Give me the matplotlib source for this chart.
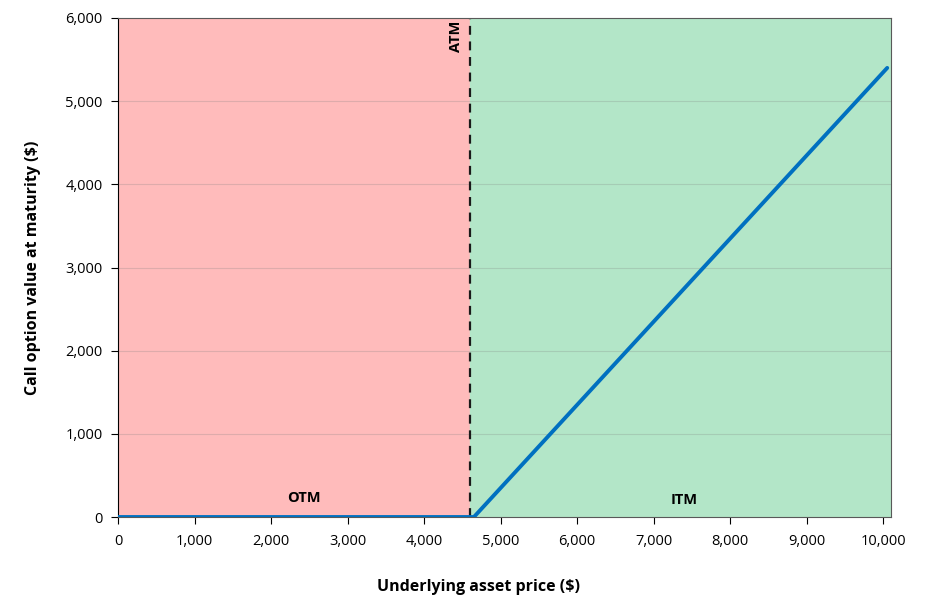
import matplotlib.pyplot as plt
import numpy as np

# payoff of a call option at maturity
strike = 4600
price = np.array([0, 4650, 10050])
payoff = np.array([0, 0, 5400])
x_max = 10100
y_ticks = np.arange(0, 7000, 1000)
x_ticks = np.arange(0, 11000, 1000)

plt.rcParams['font.family'] = ['Open Sans', 'DejaVu Sans']

fig = plt.figure(figsize=(9.43, 6.04), dpi=100)
ax = fig.add_axes([0.1251, 0.1440, 0.8198, 0.8262])

ax.axvspan(0, strike, color='#ffbbbb', zorder=0)
ax.axvspan(strike, x_max, color='#b3e6c8', zorder=0)
for y in y_ticks[1:-1]:
    ax.axhline(y, color='#7f7f7f', alpha=0.25, lw=0.8, zorder=1)

ax.plot(price, payoff, color='#0070c0', lw=2.8, zorder=3, solid_capstyle='round')
ax.axvline(strike, color='#1a1a1a', ls=(0, (4, 3)), lw=1.6, zorder=2)

ax.text(2430, 230, 'OTM', ha='center', va='center', fontsize=10.5, fontweight='bold')
ax.text(7400, 200, 'ITM', ha='center', va='center', fontsize=10.5, fontweight='bold')
ax.text(strike - 190, 5970, 'ATM', ha='center', va='top', rotation=90, fontsize=10.5, fontweight='bold')

ax.set_xlim(0, x_max)
ax.set_ylim(0, 6000)
ax.set_xticks(x_ticks)
ax.set_yticks(y_ticks)
ax.set_xticklabels([f'{v:,}' for v in x_ticks], fontsize=10.5)
ax.set_yticklabels([f'{v:,}' for v in y_ticks], fontsize=10.5)
ax.tick_params(axis='x', direction='out', length=5, pad=7)
ax.tick_params(axis='y', direction='out', length=5, pad=6)

for s in ['top', 'right']:
    ax.spines[s].set_color('#595959')
ax.spines['left'].set_color('#000000')
ax.spines['bottom'].set_color('#595959')

ax.set_xlabel('Underlying asset price ($)', fontsize=11.5, fontweight='bold')
ax.set_ylabel('Call option value at maturity ($)', fontsize=11.5, fontweight='bold')
ax.xaxis.set_label_coords(0.466, -0.125)
ax.yaxis.set_label_coords(-0.099, 0.5)

plt.savefig('out.png', dpi=100)
